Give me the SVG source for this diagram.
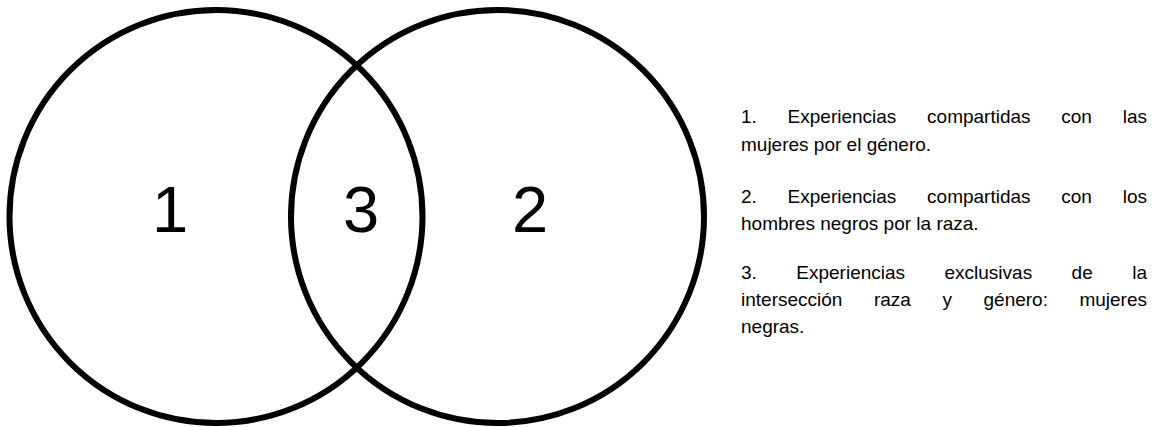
<svg xmlns="http://www.w3.org/2000/svg" width="1157" height="427" viewBox="0 0 1157 427">
<style>
.c{fill:none;stroke:#000;stroke-width:6}
.n{font-family:"Liberation Sans",Arial,sans-serif;font-size:65px;fill:#000;text-anchor:middle}
.t{font-family:"Liberation Sans",Arial,sans-serif;font-size:19px;fill:#000}
.e{text-anchor:end}
</style>
<rect width="1157" height="427" fill="#fff"/>
<g id="set1"><circle class="c" cx="216" cy="216.5" r="206.5"/></g>
<g id="set2"><circle class="c" cx="497.5" cy="216.5" r="206.5"/></g>
<g id="labels">
<text class="n" x="170" y="232">1</text>
<text class="n" x="361" y="232">3</text>
<text class="n" x="530" y="232">2</text>
</g>
<g id="legend1">
<text class="t" y="123"><tspan x="741">1.</tspan><tspan x="787.6">Experiencias</tspan><tspan x="927.1">compartidas</tspan><tspan x="1061.3">con</tspan></text>
<text class="t e" x="1147" y="123">las</text>
<text class="t" x="741" y="151">mujeres por el género.</text>
</g>
<g id="legend2">
<text class="t" y="203"><tspan x="741">2.</tspan><tspan x="787.6">Experiencias</tspan><tspan x="927.1">compartidas</tspan><tspan x="1061.3">con</tspan></text>
<text class="t e" x="1147" y="203">los</text>
<text class="t" x="741" y="230">hombres negros por la raza.</text>
</g>
<g id="legend3">
<text class="t" y="279"><tspan x="741">3.</tspan><tspan x="796.3">Experiencias</tspan><tspan x="944.5">exclusivas</tspan><tspan x="1071.6">de</tspan></text>
<text class="t e" x="1147" y="279">la</text>
<text class="t" y="306"><tspan x="741">intersección</tspan><tspan x="873.9">raza</tspan><tspan x="942.4">y</tspan><tspan x="983.5">género:</tspan></text>
<text class="t e" x="1147" y="306">mujeres</text>
<text class="t" x="741" y="333">negras.</text>
</g>
</svg>
